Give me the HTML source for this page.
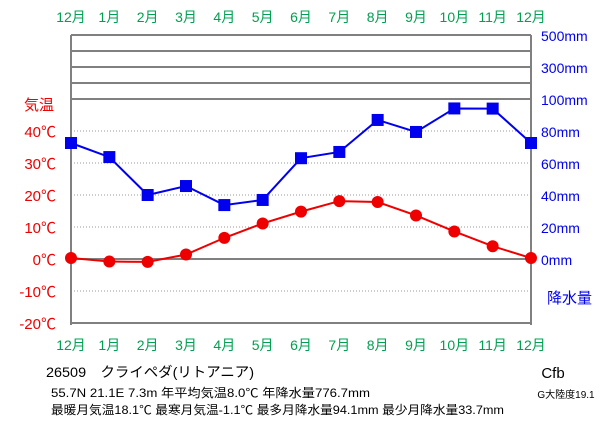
<!DOCTYPE html>
<html><head><meta charset="utf-8"><style>
body{margin:0;background:#fff;width:611px;height:425px;overflow:hidden}
svg text{font-family:"Liberation Sans","Noto Sans CJK JP",sans-serif}
</style></head><body>
<svg id="chart" width="611" height="425" xmlns="http://www.w3.org/2000/svg">
<g id="grid"></g><g id="series"></g><g id="labels"></g>
<text x="24" y="110" font-size="15" fill="#ee0000">気温</text>
<text x="547" y="303" font-size="15" fill="#0000ee">降水量</text>
<text x="46" y="377" font-size="14" fill="#000" textLength="208" lengthAdjust="spacingAndGlyphs">26509　クライペダ(リトアニア)</text>
<text x="51" y="397" font-size="12" fill="#000" textLength="319" lengthAdjust="spacingAndGlyphs">55.7N  21.1E  7.3m  年平均気温8.0℃ 年降水量776.7mm</text>
<text x="51" y="414" font-size="12" fill="#000" textLength="453" lengthAdjust="spacingAndGlyphs">最暖月気温18.1℃ 最寒月気温-1.1℃ 最多月降水量94.1mm 最少月降水量33.7mm</text>
<text x="553" y="378" font-size="15" fill="#000" text-anchor="middle">Cfb</text>
<text x="566" y="398" font-size="10" fill="#000" text-anchor="middle">G大陸度19.1</text>
</svg>
<script>
const months=["12月","1月","2月","3月","4月","5月","6月","7月","8月","9月","10月","11月","12月"];
const temps=[0.3,-0.8,-0.9,1.4,6.6,11.1,14.8,18.1,17.8,13.6,8.6,4.0,0.3];
const precip=[72.5,63.7,40.0,45.6,33.7,36.9,63.0,66.9,86.9,79.4,94.1,94.0,72.5];
const tempTicks=[40,30,20,10,0,-10,-20];
const precipTicks=[0,20,40,60,80,100];
const precipUpperLabels=["300mm","500mm"];
const NS="http://www.w3.org/2000/svg";
const L=71,R=531,T=35;
const xs=i=>L+i*(R-L)/12;
const yT=t=>259-t*3.2;
const yP=p=>259-p*1.6;
function mk(tag,attrs,parent,text){const e=document.createElementNS(NS,tag);for(const k in attrs)e.setAttribute(k,attrs[k]);if(text!==undefined)e.textContent=text;parent.appendChild(e);return e;}
const grid=document.getElementById('grid'),ser=document.getElementById('series'),lab=document.getElementById('labels');
for(let k=0;k<5;k++){const y=T+k*16;const l=mk('line',{x1:L,x2:R,y1:y,y2:y,stroke:'#808080','stroke-width':2},grid);

}
tempTicks.forEach(t=>{const y=yT(t);const solid=(t===0||t===-20);
const l=mk('line',{x1:L,x2:R,y1:y,y2:y,stroke:solid?'#808080':'#999','stroke-width':solid?2:1,'stroke-dasharray':solid?'none':'1,2'},grid);


const tx=mk('text',{x:56,y:y+6,'font-size':15,fill:'#ee0000','text-anchor':'end'},lab,t+'℃');

});
mk('line',{x1:L,x2:L,y1:T,y2:T+290,stroke:'#808080','stroke-width':2},grid);
mk('line',{x1:R,x2:R,y1:T,y2:T+290,stroke:'#808080','stroke-width':2},grid);
precipTicks.forEach(p=>{const tx=mk('text',{x:541,y:yP(p)+6,'font-size':14,fill:'#0000ee'},lab,p+'mm');

});
precipUpperLabels.forEach((s,k)=>{const tx=mk('text',{x:541,y:k===0?73:41,'font-size':14,fill:'#0000ee'},lab,s);

});
months.forEach((m,i)=>{[22,350].forEach(y=>{const tx=mk('text',{x:xs(i),y:y,'font-size':14,fill:'#00a050','text-anchor':'middle'},lab,m);

});});
const pl=mk('polyline',{points:precip.map((p,i)=>xs(i)+','+yP(p)).join(' '),fill:'none',stroke:'#0000ee','stroke-width':2},ser);


precip.forEach((p,i)=>{const r=mk('rect',{x:xs(i)-6,y:yP(p)-6,width:12,height:12,fill:'#0000ee'},ser);

});
const tl=mk('polyline',{points:temps.map((t,i)=>xs(i)+','+yT(t)).join(' '),fill:'none',stroke:'#ee0000','stroke-width':2},ser);


temps.forEach((t,i)=>{const c=mk('circle',{cx:xs(i),cy:yT(t),r:6,fill:'#ee0000'},ser);

});
</script>
</body></html>
